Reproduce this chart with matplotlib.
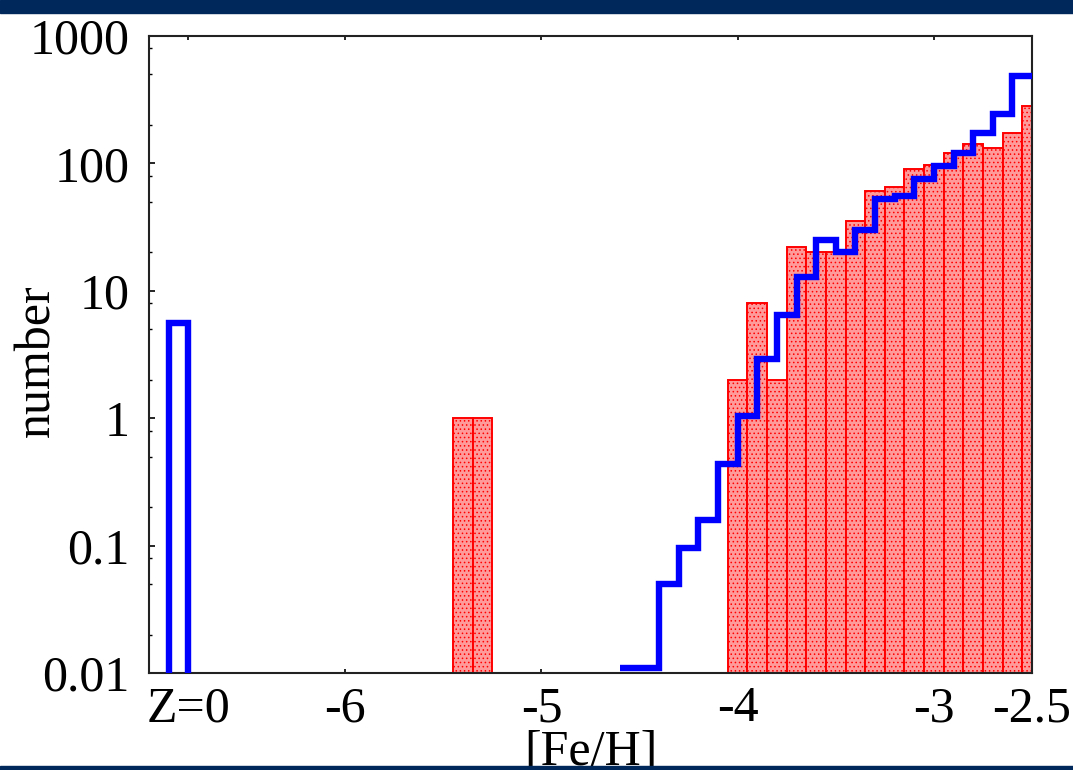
import numpy as np
import matplotlib
matplotlib.use('Agg')
import matplotlib.pyplot as plt
from matplotlib.patches import Rectangle
from matplotlib.ticker import LogLocator, NullFormatter

# red histogram (observed), bin left edges and counts
red_left = [-5.45, -5.35,
            -4.05, -3.95, -3.85, -3.75, -3.65, -3.55, -3.45, -3.35,
            -3.25, -3.15, -3.05, -2.95, -2.85, -2.75, -2.65, -2.55]
red_count = [1.0, 1.0,
             2.0, 8.0, 2.0, 22, 20, 20, 35, 61,
             65, 91, 97, 121, 141, 131, 172, 281]
bin_width = 0.1

# blue step line (model)
blue_edges = [-4.6, -4.5, -4.4, -4.3, -4.2, -4.1, -4.0, -3.9, -3.8, -3.7, -3.6,
              -3.5, -3.4, -3.3, -3.2, -3.1, -3.0, -2.9, -2.8, -2.7, -2.6, -2.5]
blue_count = [0.011, 0.011, 0.05, 0.095, 0.16, 0.44, 1.05, 2.9, 6.5, 12.9,
              25, 20.3, 30, 53, 55, 75, 95, 121, 172, 246, 483]

# Z=0 bin (blue box)
z0_edges = [-6.9, -6.8]
z0_count = [5.6]

xtick_pos = [-6.8, -6, -5, -4, -3, -2.5]
xtick_lab = ['Z=0', '-6', '-5', '-4', '-3', '-2.5']
ytick_pos = [0.01, 0.1, 1, 10, 100, 1000]
ytick_lab = ['0.01', '0.1', '1', '10', '100', '1000']

plt.rcParams['font.family'] = ['Liberation Serif', 'DejaVu Serif']
plt.rcParams['hatch.linewidth'] = 0.6

fig = plt.figure(figsize=(10.73, 7.70), dpi=100)
ax = fig.add_axes([149/1073, 97/770, 883/1073, 637/770])

ax.bar(red_left, red_count, width=bin_width, align='edge', bottom=1e-3,
       facecolor='#ff9a9a', edgecolor='red', hatch='....', linewidth=1.4,
       zorder=2)

ax.stairs(blue_count, blue_edges, baseline=None, color='blue', linewidth=4.6,
          zorder=3)
ax.stairs(z0_count, z0_edges, baseline=1e-4, color='blue', linewidth=4.6,
          zorder=3)

ax.set_yscale('log')
ax.set_xlim(-7, -2.5)
ax.set_ylim(0.01, 1000)

ax.set_xticks(xtick_pos)
ax.set_xticklabels(xtick_lab)
ax.set_yticks(ytick_pos)
ax.set_yticklabels(ytick_lab)
ax.yaxis.set_minor_locator(LogLocator(base=10, subs=[2, 5, 8]))
ax.yaxis.set_minor_formatter(NullFormatter())

ax.tick_params(axis='x', which='major', direction='in', length=3, width=1.2,
               labelsize=36, pad=9, top=True)
ax.tick_params(axis='y', which='major', direction='in', length=4.5, width=1.2,
               labelsize=36, pad=14)
ax.tick_params(axis='y', which='minor', direction='in', length=2.5, width=1.0)
for s in ax.spines.values():
    s.set_linewidth(1.5)
    s.set_color('#222222')

ax.set_xlabel('[Fe/H]', fontsize=36)
ax.xaxis.set_label_coords(0.5, -0.088)
ax.set_ylabel('number', fontsize=36)
ax.yaxis.set_label_coords(-0.10, 0.49)

# dark frame bands of the slide
band = '#00285a'
fig.add_artist(Rectangle((0, 1 - 13/770), 1, 13/770, transform=fig.transFigure,
                         color=band, zorder=10))
fig.add_artist(Rectangle((0, 0), 1, 4/770, transform=fig.transFigure,
                         color=band, zorder=10))

fig.savefig('out.png', dpi=100)
